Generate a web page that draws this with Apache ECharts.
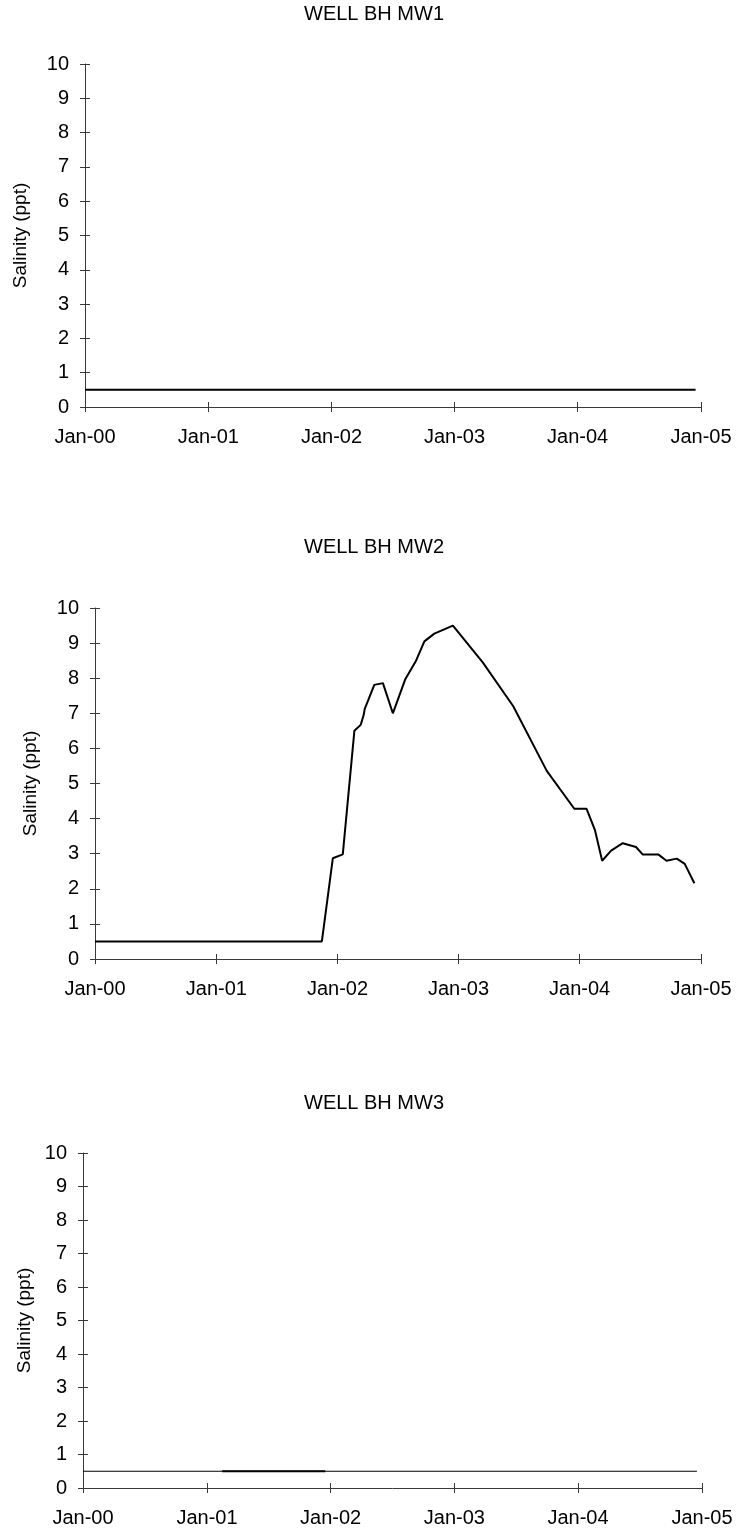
<!DOCTYPE html>
<html>
<head>
<meta charset="utf-8">
<title>Well salinity</title>
<script src="https://cdn.jsdelivr.net/npm/echarts@6/dist/echarts.min.js"></script>
<style>
  html, body { margin: 0; padding: 0; background: #fff; }
  #chart { width: 743px; height: 1532px; }
</style>
</head>
<body>
<div id="chart"></div>
<script>
// Tick labels
const xTickLabels = ['Jan-00', 'Jan-01', 'Jan-02', 'Jan-03', 'Jan-04', 'Jan-05'];
const yTickValues = [0, 1, 2, 3, 4, 5, 6, 7, 8, 9, 10];
const wellTitles = ['WELL BH MW1', 'WELL BH MW2', 'WELL BH MW3'];
const yAxisName = 'Salinity (ppt)';

// WELL BH MW1
const mw1Dates = ['2000-01-01', '2004-12-16'];
const mw1Values = [0.5, 0.5];

// WELL BH MW2
const mw2Dates = [
  '2000-01-01', '2001-11-15', '2001-12-18', '2002-01-17', '2002-02-21',
  '2002-03-12', '2002-03-21', '2002-03-24', '2002-04-22', '2002-05-18',
  '2002-06-17', '2002-07-24', '2002-08-25', '2002-09-20', '2002-10-20',
  '2002-12-15', '2003-03-15', '2003-06-15', '2003-09-24', '2003-12-16',
  '2004-01-22', '2004-02-16', '2004-03-09', '2004-04-05', '2004-05-10',
  '2004-06-19', '2004-07-09', '2004-08-25', '2004-09-19', '2004-10-20',
  '2004-11-13', '2004-12-12'
];
const mw2Values = [
  0.5, 0.5, 2.87, 2.98, 6.5,
  6.67, 6.95, 7.12, 7.81, 7.86,
  7.0, 7.96, 8.48, 9.05, 9.27,
  9.5, 8.45, 7.2, 5.36, 4.28,
  4.28, 3.68, 2.8, 3.09, 3.3,
  3.19, 2.98, 2.98, 2.8, 2.86,
  2.71, 2.16
];

// WELL BH MW3 (full record and the heavier 2001 run)
const mw3Dates = ['2000-01-01', '2004-12-17'];
const mw3Values = [0.5, 0.5];
const mw3RunDates = ['2001-02-15', '2001-12-16'];
const mw3RunValues = [0.5, 0.5];

const FONT = '"Liberation Sans", Arial, Helvetica, sans-serif';
const X_MIN = '2000-01-01';
const X_MAX = '2005-01-01';
const DAY = 24 * 3600 * 1000;

function pairs(dates, values) {
  return dates.map((d, i) => [d, values[i]]);
}

function yearLabel(value) {
  const y = new Date(value).getFullYear();
  return xTickLabels[y - 2000] || '';
}

// Panel layout: grid box, title top, y-name gap
const panels = [
  { left: 85, top: 64, width: 616, height: 343, titleTop: 4, nameGap: 55,
    series: [{ data: pairs(mw1Dates, mw1Values), width: 2 }] },
  { left: 95, top: 608, width: 606, height: 351, titleTop: 537, nameGap: 55,
    series: [{ data: pairs(mw2Dates, mw2Values), width: 2 }] },
  { left: 83, top: 1153, width: 619, height: 335, titleTop: 1093, nameGap: 49,
    series: [{ data: pairs(mw3Dates, mw3Values), width: 1.2 },
             { data: pairs(mw3RunDates, mw3RunValues), width: 2.2 }] }
];

const axisLineStyle = { color: '#3a3a3a', width: 1 };

const option = {
  animation: false,
  backgroundColor: '#fff',
  textStyle: { fontFamily: FONT },
  title: [],
  grid: [],
  xAxis: [],
  yAxis: [],
  series: []
};

panels.forEach((p, i) => {
  option.title.push({
    text: wellTitles[i],
    left: 304,
    top: p.titleTop,
    padding: 0,
    textStyle: { fontFamily: FONT, fontSize: 20, fontWeight: 'normal', color: '#000' }
  });
  option.grid.push({ left: p.left, top: p.top, width: p.width, height: p.height, containLabel: false });

  const xBase = {
    type: 'time', gridIndex: i, min: X_MIN, max: X_MAX,
    minInterval: 365 * DAY, maxInterval: 366 * DAY, splitNumber: 5,
    splitLine: { show: false }, position: 'bottom'
  };
  const xi = option.xAxis.length;
  // primary x axis: line, outside ticks, labels
  option.xAxis.push(Object.assign({}, xBase, {
    axisLine: { show: true, lineStyle: axisLineStyle },
    axisTick: { show: true, length: 5, inside: false, lineStyle: axisLineStyle },
    axisLabel: {
      show: true, fontFamily: FONT, fontSize: 20, color: '#000', margin: 20,
      showMinLabel: true, showMaxLabel: true, hideOverlap: false,
      formatter: yearLabel
    }
  }));
  // companion x axis: inside ticks so the marks cross the line
  option.xAxis.push(Object.assign({}, xBase, {
    axisLine: { show: false },
    axisTick: { show: true, length: 5, inside: true, lineStyle: axisLineStyle },
    axisLabel: { show: false }
  }));

  const yBase = {
    type: 'value', gridIndex: i, min: 0, max: 10, interval: 1,
    position: 'left', splitLine: { show: false }
  };
  const yi = option.yAxis.length;
  option.yAxis.push(Object.assign({}, yBase, {
    name: yAxisName, nameLocation: 'middle', nameGap: p.nameGap, nameRotate: 90,
    nameTextStyle: { fontFamily: FONT, fontSize: 19, color: '#000' },
    axisLine: { show: true, lineStyle: axisLineStyle },
    axisTick: { show: true, length: 5, inside: false, lineStyle: axisLineStyle },
    axisLabel: {
      fontFamily: FONT, fontSize: 20, color: '#000', margin: 16,
      formatter: v => (yTickValues.indexOf(v) >= 0 ? String(v) : '')
    }
  }));
  option.yAxis.push(Object.assign({}, yBase, {
    offset: 0,
    axisLine: { show: false },
    axisTick: { show: true, length: 5, inside: true, lineStyle: axisLineStyle },
    axisLabel: { show: false }
  }));

  p.series.forEach(s => {
    option.series.push({
      type: 'line', xAxisIndex: xi, yAxisIndex: yi,
      data: s.data, showSymbol: false, symbol: 'none',
      lineStyle: { color: '#000', width: s.width },
      silent: true
    });
  });
});

const chart = echarts.init(document.getElementById('chart'), null, { renderer: 'canvas' });
chart.setOption(option);
</script>
</body>
</html>
